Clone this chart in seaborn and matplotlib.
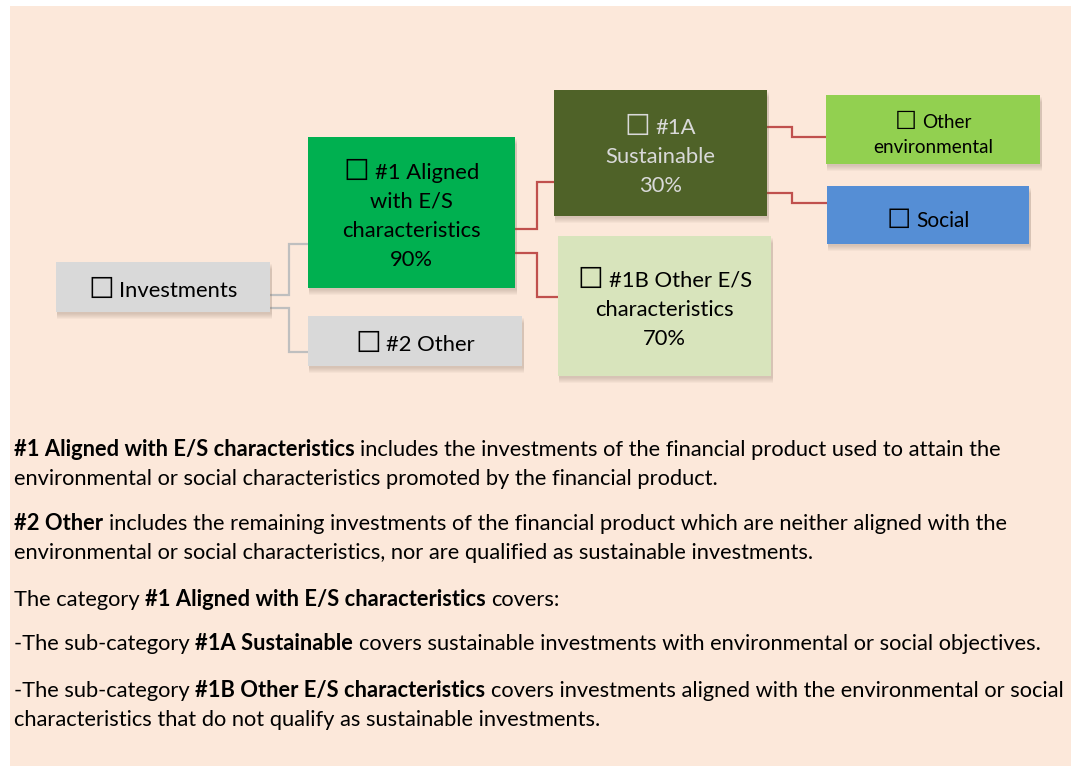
import matplotlib
matplotlib.use("Agg")
import matplotlib.pyplot as plt
import seaborn as sns
from matplotlib.patches import Rectangle

sns.set_theme(style="white")
plt.rcParams["font.family"] = ["Lato", "DejaVu Sans"]

CHECK = "\u2610"

# node data
node_lines = [
    [f"{CHECK} Investments"],
    [f"{CHECK} #1 Aligned", "with E/S", "characteristics", "90%"],
    [f"{CHECK} #2 Other"],
    [f"{CHECK} #1A", "Sustainable", "30%"],
    [f"{CHECK} #1B Other E/S", "characteristics", "70%"],
    [f"{CHECK} Other", "environmental"],
    [f"{CHECK} Social"],
]
node_colors = ["#D9D9D9", "#00B050", "#D9D9D9", "#4F6228", "#D8E4BC", "#92D050", "#558ED5"]
node_text_colors = ["black", "black", "black", "#D9D9D9", "black", "black", "black"]
node_scale = [1, 1, 1, 1, 1, 0.86, 0.95]

# explanatory notes: (text, bold) segments per line, lines grouped by paragraph
notes = [
    [[("#1 Aligned with E/S characteristics", True),
      (" includes the investments of the financial product used to attain the", False)],
     [("environmental or social characteristics promoted by the financial product.", False)]],
    [[("#2 Other", True),
      (" includes the remaining investments of the financial product which are neither aligned with the", False)],
     [("environmental or social characteristics, nor are qualified as sustainable investments.", False)]],
    [[("The category ", False), ("#1 Aligned with E/S characteristics", True), (" covers:", False)]],
    [[("-The sub-category ", False), ("#1A Sustainable", True),
      (" covers sustainable investments with environmental or social objectives.", False)]],
    [[("-The sub-category ", False), ("#1B Other E/S characteristics", True),
      (" covers investments aligned with the environmental or social", False)],
     [("characteristics that do not qualify as sustainable investments.", False)]],
]

# layout in pixels (x0, y0, x1, y1)
boxes = [
    (56, 262, 270, 312),
    (308, 137, 515, 288),
    (308, 316, 522, 366),
    (554, 90, 767, 216),
    (558, 236, 771, 376),
    (826, 95, 1040, 164),
    (827, 186, 1029, 244),
]
gray_links = [
    [(270, 295), (289, 295), (289, 244), (308, 244)],
    [(270, 308), (289, 308), (289, 352), (308, 352)],
]
red_links = [
    [(515, 229), (537, 229), (537, 182), (554, 182)],
    [(515, 253), (537, 253), (537, 297), (558, 297)],
    [(767, 127), (792, 127), (792, 137), (826, 137)],
    [(767, 193), (792, 193), (792, 203), (827, 203)],
]
note_y = [[456, 485], [530, 559], [606], [650], [697, 726]]

fig = plt.figure(figsize=(10.78, 7.72), dpi=100, facecolor="white")
ax = fig.add_axes([0, 0, 1, 1])
ax.set_xlim(0, 1078)
ax.set_ylim(772, 0)
ax.axis("off")
renderer = fig.canvas.get_renderer()


def text_width(s, size, weight="normal", family=None):
    t = ax.text(0, 0, s, fontsize=size, fontweight=weight, family=family)
    w = t.get_window_extent(renderer).width
    t.remove()
    return w


ax.add_patch(Rectangle((10, 6), 1061, 760, facecolor="#FCE8DA", edgecolor="none", zorder=0))

for pts in gray_links:
    xs, ys = zip(*pts)
    ax.plot(xs, ys, color="#BFBFBF", lw=1.6, zorder=1, solid_joinstyle="miter")
for pts in red_links:
    xs, ys = zip(*pts)
    ax.plot(xs, ys, color="#C0504D", lw=1.6, zorder=1, solid_joinstyle="miter")

# font size fitted to the reference text width
big_fs = 10 * 139 / text_width("characteristics", 10)
space10 = text_width("a a", 10) - text_width("aa", 10)

for (x0, y0, x1, y1), lines, fc, tc, sc in zip(boxes, node_lines, node_colors,
                                                node_text_colors, node_scale):
    for k in range(6):
        off = 2 + k
        ax.add_patch(Rectangle((x0 + 1, y0 + off), x1 - x0 + 1, y1 - y0,
                               facecolor="#7F6A5A", alpha=0.05, edgecolor="none", zorder=2))
    ax.add_patch(Rectangle((x0, y0), x1 - x0, y1 - y0, facecolor=fc, edgecolor="none", zorder=3))
    fs = big_fs * sc
    px = fs * 100 / 72
    pitch = 25 if sc < 0.9 else 29
    cx, cy = (x0 + x1) / 2, (y0 + y1) / 2 + (4 if sc < 0.99 else 2)
    n = len(lines)
    for i, line in enumerate(lines):
        base_y = cy + (i - (n - 1) / 2) * pitch + 0.36 * px
        if line.startswith(CHECK):
            rest = line[2:]
            cfs = fs * 1.3
            wc = text_width(CHECK, cfs, family="DejaVu Sans")
            wr = text_width(rest, fs)
            sp = 1.0 * space10 * fs / 10
            x = cx - (wc + sp + wr) / 2
            ax.text(x, base_y + 0.05 * px, CHECK, fontsize=cfs, color=tc, family="DejaVu Sans",
                    ha="left", va="baseline", zorder=4)
            ax.text(x + wc + sp, base_y, rest, fontsize=fs, color=tc,
                    ha="left", va="baseline", zorder=4)
        else:
            ax.text(cx, base_y, line, fontsize=fs, color=tc,
                    ha="center", va="baseline", zorder=4)

# notes font fitted to the longest line
longest = notes[4][0]
base = sum(text_width(s.strip(), 10, "bold" if b else "normal") for s, b in longest)
base += 2 * space10
note_fs = 10 * 1054 / base
space_w = space10 * note_fs / 10

for para, ys in zip(notes, note_y):
    for segs, y in zip(para, ys):
        x = 14
        for s, bold in segs:
            w = "bold" if bold else "normal"
            if s.startswith(" "):
                x += space_w
            body = s.strip()
            ax.text(x, y, body, fontsize=note_fs, fontweight=w, color="black",
                    ha="left", va="baseline", zorder=4)
            x += text_width(body, note_fs, w)
            if s.endswith(" "):
                x += space_w

fig.savefig("out.png", dpi=100, facecolor="white")
